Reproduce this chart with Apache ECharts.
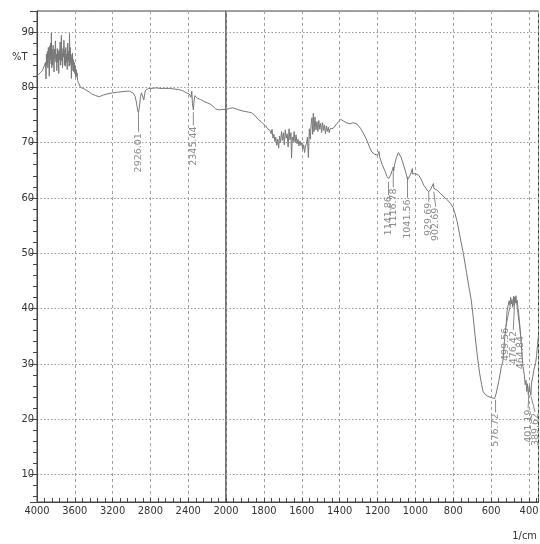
<!DOCTYPE html>
<html>
<head>
<meta charset="utf-8">
<script src="https://cdn.jsdelivr.net/npm/echarts@6/dist/echarts.min.js"></script>
<style>
  html, body { margin: 0; padding: 0; background: #fff; }
  #chart { width: 540px; height: 544px; }
</style>
</head>
<body>
<div id="chart"></div>
<script>
// wavenumber (1/cm) and transmittance (%T), 4000 - 2000 part
var wnHigh = [4000,3980,3960,3940,3920,3910,3905,3900,3895,3890,3885,3880,3875,3870,3865,3860,3855,3850,3848,3844,3840,3835,3830,3825,3820,3815,3810,3805,3800,3795,3790,3785,3780,3775,3770,3765,3760,3755,3750,3745,3742,3738,3734,3730,3725,3720,3715,3710,3705,3700,3695,3690,3685,3680,3675,3670,3665,3660,3656,3652,3648,3644,3640,3636,3632,3628,3624,3620,3615,3610,3605,3600,3595,3590,3585,3580,3575,3570,3560,3550,3540,3520,3500,3480,3460,3440,3420,3400,3380,3360,3340,3320,3300,3280,3260,3240,3200,3150,3100,3050,3020,3000,2980,2960,2945,2935,2926,2918,2905,2895,2885,2870,2860,2850,2820,2780,2740,2700,2650,2600,2550,2500,2460,2420,2390,2370,2362,2355,2345,2338,2330,2320,2300,2270,2240,2200,2170,2140,2110,2090,2070,2040,2020,2000];
var tHigh = [82.0,82.3,82.7,83.1,83.3,84.5,81.5,86.0,84.0,86.5,83.5,87.2,84.8,82.0,87.5,85.0,88.0,84.2,89.8,83.5,86.8,84.0,87.6,85.5,82.8,86.9,85.2,88.4,84.6,86.0,83.0,87.0,84.5,86.5,82.5,86.8,85.0,88.2,84.0,87.5,89.4,84.8,86.2,83.5,87.0,85.5,88.5,84.0,86.8,83.8,87.2,84.5,86.0,83.2,88.0,84.8,86.5,83.8,89.7,84.0,87.2,84.5,86.0,81.6,85.5,84.0,86.2,83.0,85.0,82.8,84.5,82.5,83.8,81.8,83.2,82.0,82.6,81.2,80.8,80.5,80.0,79.8,79.7,79.5,79.3,79.0,78.8,78.6,78.5,78.4,78.3,78.5,78.6,78.7,78.8,78.9,79.0,79.1,79.2,79.3,79.3,79.1,78.9,78.3,77.0,75.8,75.4,76.2,78.3,79.0,78.9,77.7,78.9,79.5,79.8,79.8,79.9,79.8,79.8,79.8,79.7,79.6,79.4,79.0,78.8,78.2,79.3,77.0,75.9,77.5,78.5,78.3,78.0,77.8,77.5,77.2,77.0,76.6,76.1,75.8,75.9,76.0,76.0,76.0];

// 2000 - 350 part
var wnLow = [2000,1980,1963,1940,1910,1880,1866,1850,1830,1815,1804,1790,1780,1768,1762,1757,1752,1747,1742,1737,1732,1727,1722,1717,1712,1707,1702,1697,1692,1687,1682,1677,1672,1667,1662,1657,1654,1650,1645,1640,1635,1630,1625,1620,1615,1610,1605,1600,1595,1590,1585,1580,1575,1570,1565,1560,1555,1550,1546,1542,1539,1535,1530,1525,1520,1515,1510,1505,1500,1495,1490,1485,1480,1475,1470,1465,1460,1455,1450,1440,1433,1420,1405,1394,1380,1365,1345,1330,1310,1290,1270,1256,1240,1230,1215,1200,1192,1188,1175,1160,1150,1141,1130,1120,1117,1115,1110,1100,1090,1085,1075,1062,1050,1041,1032,1025,1018,1016,1014,1000,983,970,956,940,930,920,910,905,902,895,886,870,850,830,815,800,794,780,771,760,747,730,718,705,695,688,675,661,650,643,630,617,600,590,582,577,573,560,546,538,529,520,516,510,505,500,497,493,490,486,482,479,476,472,469,467,463,458,455,449,442,432,425,420,416,412,408,404,401,398,395,390,387,380,375,369,365,360,355,350];
var tLow = [76.0,76.2,76.3,76.0,75.7,75.5,75.4,75.0,74.2,73.8,73.4,73.0,72.5,72.2,71.6,72.4,70.8,71.5,70.2,71.0,69.5,70.6,69.0,71.2,70.0,72.0,70.4,71.8,69.6,72.3,70.8,71.6,69.2,72.5,70.5,71.8,67.2,71.0,70.2,72.0,70.0,71.4,69.8,70.6,69.4,70.3,69.5,70.0,68.8,69.6,68.2,69.4,69.8,71.0,67.3,72.5,70.6,73.5,74.5,71.5,75.3,72.0,74.6,72.3,73.8,72.0,74.0,72.4,73.5,71.8,73.6,72.2,73.2,71.6,73.0,72.0,72.8,71.8,72.5,72.4,72.6,73.2,73.8,74.2,73.9,73.6,73.4,73.6,73.4,72.6,71.4,70.4,69.0,68.3,67.9,67.7,68.4,67.3,66.0,64.8,63.9,63.5,64.2,65.2,65.6,64.8,66.0,67.3,68.2,68.3,67.3,65.9,64.5,63.3,63.6,64.3,64.2,65.3,64.3,64.4,64.1,63.4,62.3,61.5,61.1,61.5,61.8,62.6,61.7,61.8,61.4,60.9,60.2,59.6,59.0,58.2,57.5,55.8,54.2,52.2,50.0,46.5,44.0,41.5,38.5,36.1,32.0,28.3,26.2,25.0,24.4,24.1,23.9,23.8,23.7,23.5,24.7,26.8,29.5,30.5,34.5,37.3,39.5,40.6,41.4,40.5,42.0,40.8,41.6,40.2,42.2,40.6,42.1,41.0,42.3,40.9,41.5,40.0,39.2,37.0,34.0,29.5,28.0,26.2,27.0,25.0,26.4,24.4,24.2,26.0,25.2,24.3,26.5,27.7,28.8,29.6,30.2,31.5,33.5,35.2];

// peak annotations
var peakText  = ['2926.01','2345.44','1141.86','1116.78','1041.56','929.69','902.69','576.72','499.56','476.42','464.84','401.19','389.62'];
var peakWn    = [2926.01, 2345.44, 1141.86, 1116.78, 1041.56, 929.69, 902.69, 576.72, 499.56, 476.42, 464.84, 401.19, 389.62];
var peakTipT  = [75.3, 75.5, 62.9, 64.7, 63.8, 61.1, 61.1, 23.5, 40.5, 41.0, 40.8, 24.4, 24.1];
var labelWn   = [2926.01, 2345.44, 1141.86, 1116.78, 1041.56, 929.69, 893, 576.72, 523, 483, 444, 405, 368];
var labelT    = [71.9, 73.1, 60.5, 61.9, 59.9, 59.3, 58.4, 21.2, 36.7, 36.1, 35.2, 21.9, 21.3];

function pairs(xs, ys) {
    return xs.map(function (x, i) { return [x, ys[i]]; });
}

// 标注数据，按 2000 分成两段
var peaksHigh = [], peaksLow = [];
peakWn.forEach(function (w, i) {
    var row = [w, peakTipT[i], labelWn[i], labelT[i], i];
    if (w > 2000) peaksHigh.push(row); else peaksLow.push(row);
});

function renderPeak(params, api) {
    var tip = api.coord([api.value(0), api.value(1)]);
    var lab = api.coord([api.value(2), api.value(3)]);
    var i = api.value(4);
    return {
        type: 'group',
        children: [
            { type: 'line', shape: { x1: tip[0], y1: tip[1], x2: lab[0], y2: lab[1] },
              style: { stroke: '#8a8a8a', lineWidth: 1 } },
            { type: 'text', x: lab[0], y: lab[1] + 1, rotation: Math.PI / 2,
              style: { text: peakText[i], fill: '#8a8a8a', font: '9.5px "DejaVu Sans"',
                       align: 'right', verticalAlign: 'middle' } }
        ]
    };
}

var narrow = '"Liberation Sans Narrow", "DejaVu Sans Condensed", sans-serif';
var axisColor = '#444';

function xAxisBase() {
    return {
        type: 'value',
        inverse: true,
        axisLine: { lineStyle: { color: axisColor } },
        axisTick: { inside: true, length: 4, lineStyle: { color: axisColor } },
        minorTick: { show: true, splitNumber: 5, length: 4, lineStyle: { color: axisColor } },
        splitLine: { show: true, lineStyle: { color: '#a0a0a0', type: [3, 3] } },
        axisLabel: { color: '#333', fontSize: 11, fontFamily: narrow, margin: 4,
                     formatter: function (v) { return String(v); } }
    };
}

var x1 = xAxisBase();
x1.gridIndex = 0; x1.min = 2000; x1.max = 4000; x1.interval = 400;

var x2 = xAxisBase();
x2.gridIndex = 1; x2.min = 350; x2.max = 2000; x2.splitNumber = 8;
x2.axisLabel.formatter = function (v) { return (v % 200 === 0 && v < 2000) ? String(v) : ''; };

var yMin = 5, yMax = 93.8;

var option = {
    animation: false,
    grid: [
        { left: 37, top: 11, width: 189, bottom: 42, show: true, borderColor: axisColor, borderWidth: 1,
          containLabel: false, outerBoundsMode: 'none' },
        { left: 226, top: 11, width: 312.5, bottom: 42, show: true, borderColor: axisColor, borderWidth: 1,
          containLabel: false, outerBoundsMode: 'none' }
    ],
    xAxis: [x1, x2],
    yAxis: [
        {
            gridIndex: 0, type: 'value', min: yMin, max: yMax, splitNumber: 9,
            axisLine: { show: true, lineStyle: { color: axisColor } },
            axisTick: { show: true, length: 7, lineStyle: { color: axisColor } },
            minorTick: { show: true, splitNumber: 5, length: 4, lineStyle: { color: axisColor } },
            splitLine: { show: true, lineStyle: { color: '#999', type: [1.5, 2] } },
            axisLabel: {
                color: '#333', fontSize: 11, fontFamily: narrow, margin: 3,
                formatter: function (v) { return v % 10 === 0 ? String(v) : ''; }
            }
        },
        {
            gridIndex: 1, type: 'value', min: yMin, max: yMax, splitNumber: 9,
            axisLine: { show: false }, axisTick: { show: false }, axisLabel: { show: false },
            splitLine: { show: true, lineStyle: { color: '#999', type: [1.5, 2] } }
        }
    ],
    graphic: [
        { type: 'text', left: 12, top: 52, style: { text: '%T', fill: '#333', font: '11px ' + narrow } },
        { type: 'text', right: 3, top: 531, style: { text: '1/cm', fill: '#333', font: '11px ' + narrow } }
    ],
    series: [
        {
            type: 'line', xAxisIndex: 0, yAxisIndex: 0, data: pairs(wnHigh, tHigh),
            showSymbol: false, symbol: 'none', lineStyle: { color: '#767676', width: 1 }
        },
        {
            type: 'line', xAxisIndex: 1, yAxisIndex: 1, data: pairs(wnLow, tLow),
            showSymbol: false, symbol: 'none', lineStyle: { color: '#767676', width: 1 }
        },
        { type: 'custom', xAxisIndex: 0, yAxisIndex: 0, data: peaksHigh, renderItem: renderPeak, clip: false },
        { type: 'custom', xAxisIndex: 1, yAxisIndex: 1, data: peaksLow, renderItem: renderPeak, clip: false }
    ]
};

var chart = echarts.init(document.getElementById('chart'));
chart.setOption(option);
window.onresize = function () {
    chart.resize();
};
</script>
</body>
</html>
